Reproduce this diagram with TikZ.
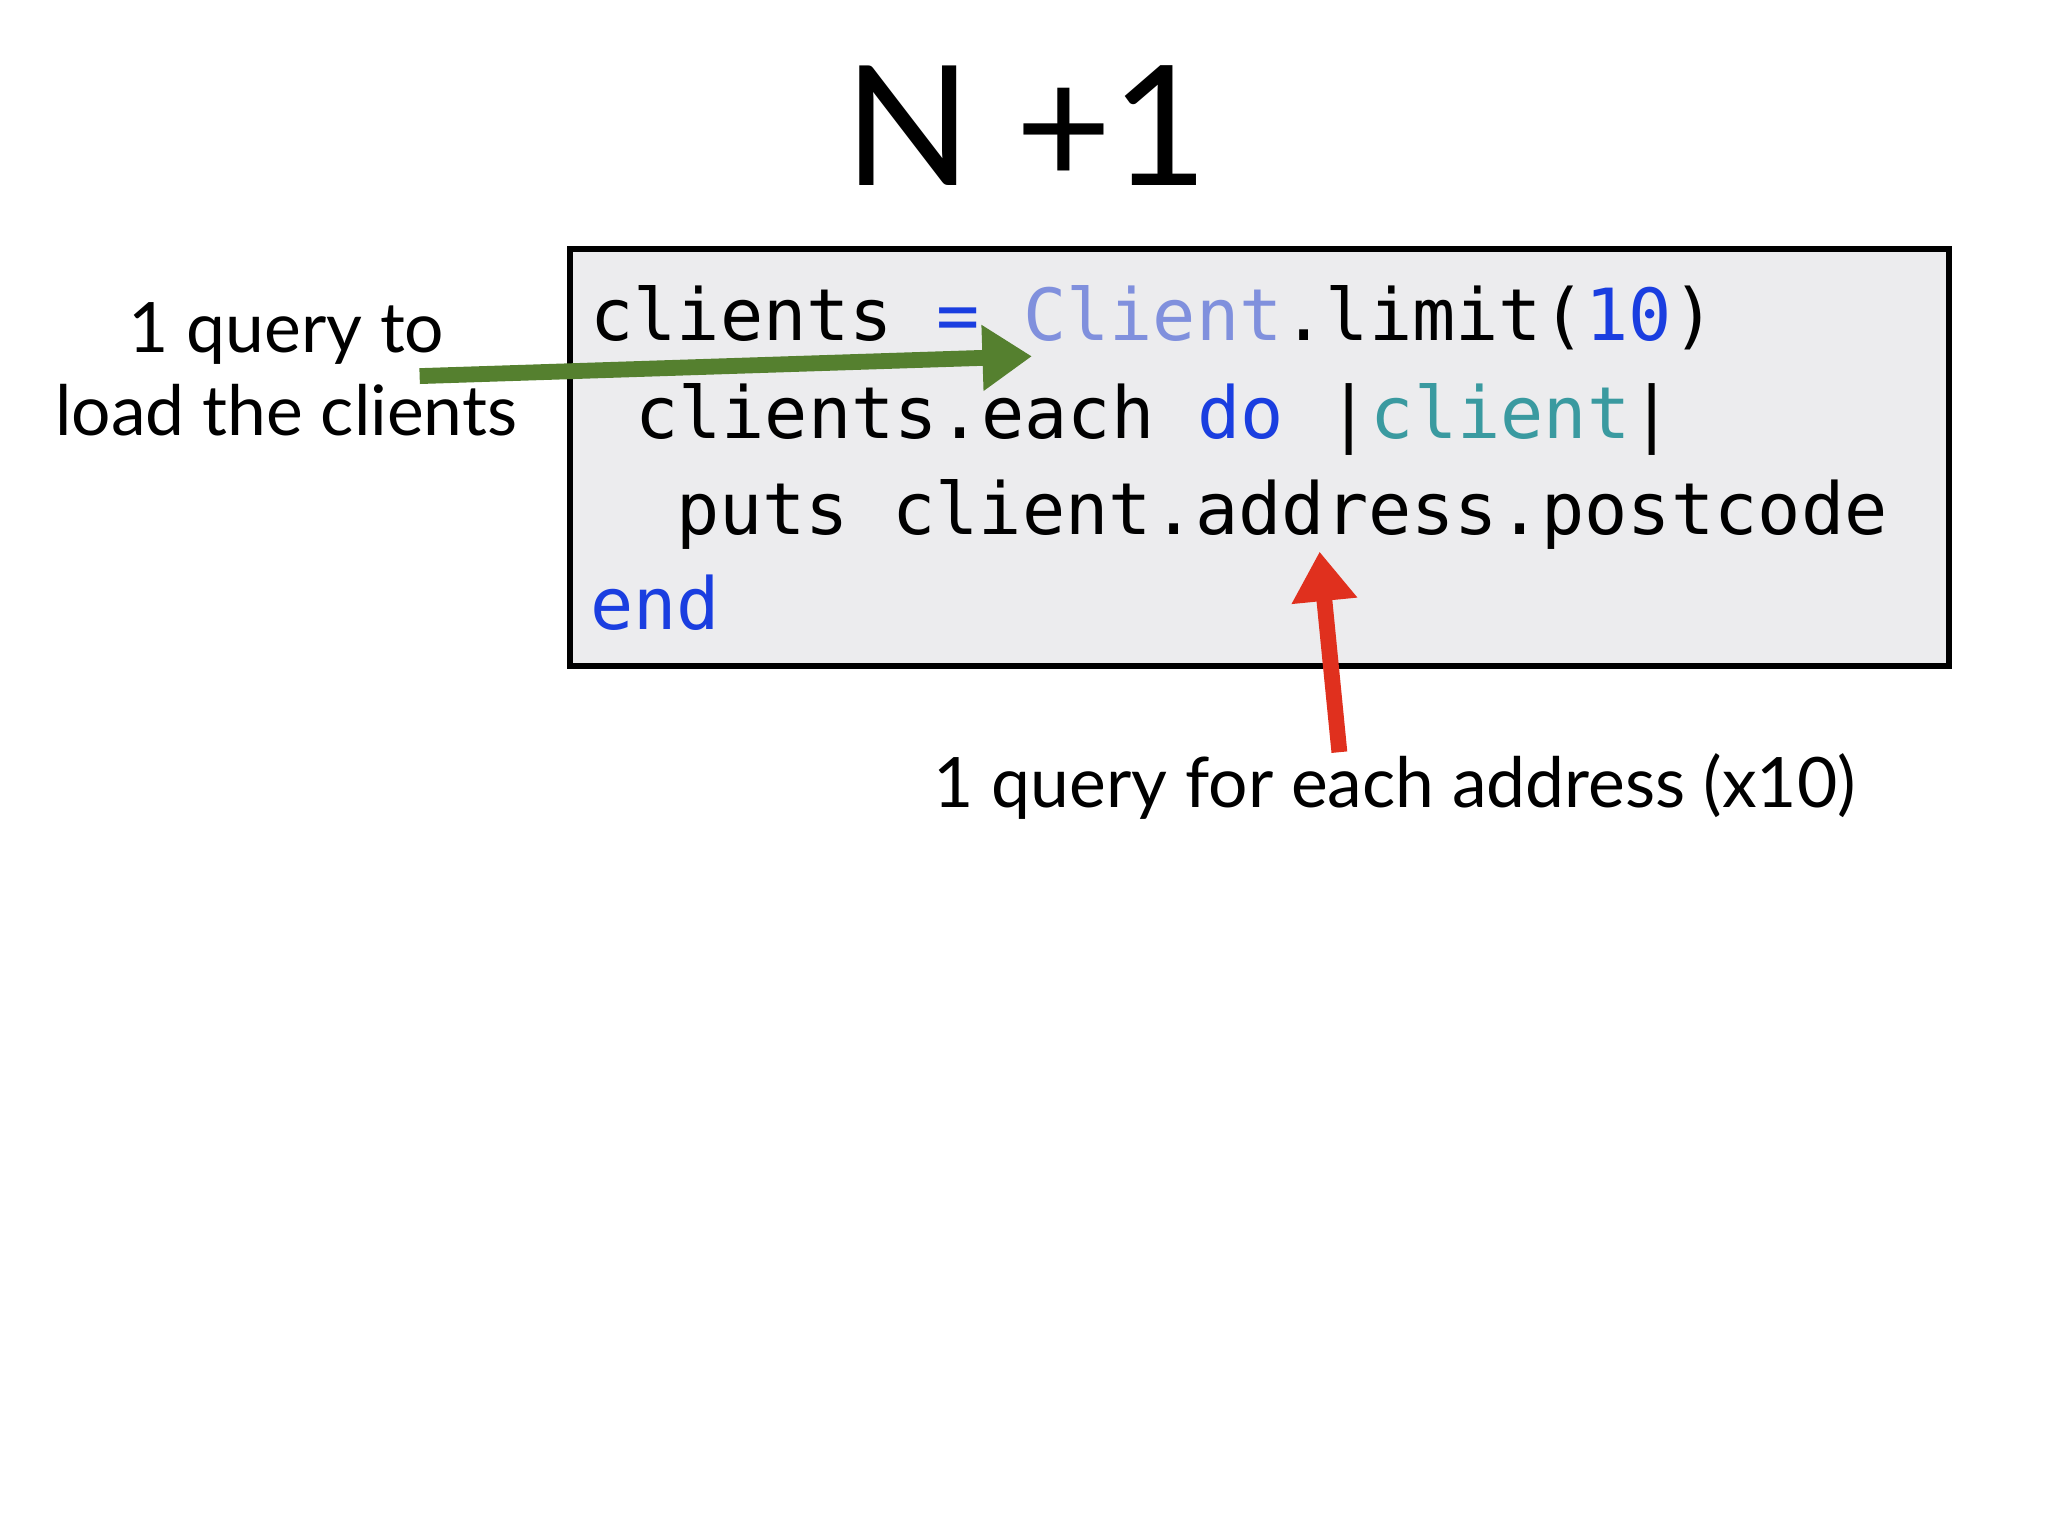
\documentclass[tikz,border=0pt]{standalone}
\usepackage{fontspec}
\usetikzlibrary{arrows.meta}
\setmainfont{Lato}
\setmonofont{DejaVu Sans Mono}
\definecolor{kwblue}{HTML}{1A3EE0}
\definecolor{clsblue}{HTML}{8090DD}
\definecolor{teal}{HTML}{3A9AA0}
\definecolor{argreen}{HTML}{55802F}
\definecolor{arred}{HTML}{E0301E}
\definecolor{boxgray}{HTML}{ECECEE}
\begin{document}
\begin{tikzpicture}[x=0.02cm,y=-0.02cm,
  code/.style={anchor=base west,inner sep=0pt,font=\ttfamily\fontsize{31}{31}\selectfont},
  lbl/.style={inner sep=0pt,font=\fontsize{30}{36}\selectfont,align=center},
  arr/.style={line width=0.24cm,-{Triangle[length=0.75cm,width=0.95cm]}}]
\useasboundingbox (0,0) rectangle (1552,1164);
\node[inner sep=0pt,font=\fontsize{72}{72}\selectfont] (title) at (778,95) {N +1};
\draw[line width=0.09cm,fill=boxgray] (432,189) rectangle (1477,505);
\node[code] (l1) at (447,258) {clients \textcolor{kwblue}{=} \textcolor{clsblue}{Client}.limit(\textcolor{kwblue}{10})};
\node[code] (l2) at (481,332) {clients.each \textcolor{kwblue}{do} |\textcolor{teal}{client}|};
\node[code] (l3) at (512,405) {puts client.address.postcode};
\node[code] (l4) at (447,477) {\textcolor{kwblue}{end}};
\node[lbl] (left) at (217,280) {1 query to\\load the clients};
\node[lbl,anchor=base] (bottom) at (1057,612) {1 query for each address (x10)};
\coordinate (gs) at (318,285);
\coordinate (ge) at (782,270);
\coordinate (rs) at (1015,570);
\coordinate (re) at (1000,418);
\draw[arr,argreen] (gs) -- (ge);
\draw[arr,arred] (rs) -- (re);
\end{tikzpicture}
\end{document}
